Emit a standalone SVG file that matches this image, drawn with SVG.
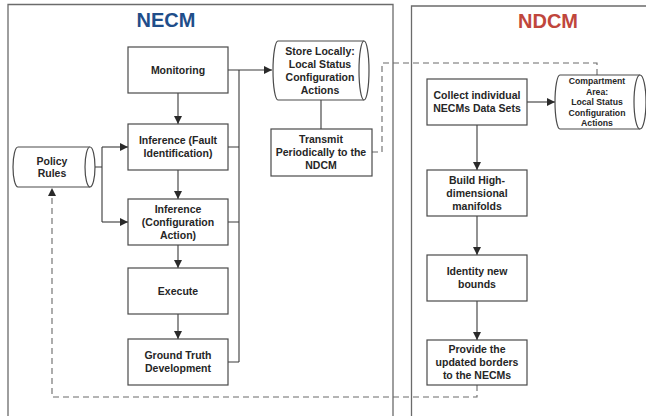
<svg xmlns="http://www.w3.org/2000/svg" width="646" height="416" viewBox="0 0 646 416">
<style>
.frame{fill:none;stroke:#6b6b6b;stroke-width:1.3}
.box{fill:#fff;stroke:#4a4a4a;stroke-width:1.2}
.t{font-family:"Liberation Sans",Arial,sans-serif;font-weight:bold;font-size:10.5px;fill:#262626;text-anchor:middle}
.ts{font-size:8.7px}
.ln{fill:none;stroke:#3a3a3a;stroke-width:1.1}
.dash{fill:none;stroke:#6a6a6a;stroke-width:1.1;stroke-dasharray:6,4}
</style>
<defs>
<marker id="ah" viewBox="0 0 10 10" refX="10" refY="5" markerWidth="8" markerHeight="8" markerUnits="userSpaceOnUse" orient="auto">
<path d="M0,0 L10,5 L0,10 Z" fill="#2a2a2a"/>
</marker>
</defs>
<rect width="646" height="416" fill="#fff"/>
<g id="frames">
<path class="frame" d="M8,416 V4.5 H393 V416"/>
<path class="frame" d="M411.5,416 V6 H646"/>
<text x="166" y="27" style="font-family:'Liberation Sans',Arial,sans-serif;font-weight:bold;font-size:20px;fill:#1f4e8a" text-anchor="middle">NECM</text>
<text x="548" y="28" style="font-family:'Liberation Sans',Arial,sans-serif;font-weight:bold;font-size:20px;fill:#c0463c" text-anchor="middle">NDCM</text>
</g>
<g id="connectors">
<path class="ln" d="M228,70 H272" marker-end="url(#ah)"/>
<path class="ln" d="M239,70 V362"/>
<path class="ln" d="M228,147 H239 M228,222 H239 M228,362 H239"/>
<path class="ln" d="M178,93 V124" marker-end="url(#ah)"/>
<path class="ln" d="M178,170 V199" marker-end="url(#ah)"/>
<path class="ln" d="M178,245 V268" marker-end="url(#ah)"/>
<path class="ln" d="M178,314 V339" marker-end="url(#ah)"/>
<path class="ln" d="M90,167 H102 M102,147 V222"/>
<path class="ln" d="M102,147 H128" marker-end="url(#ah)"/>
<path class="ln" d="M102,222 H128" marker-end="url(#ah)"/>
<path class="ln" d="M321,100 V129"/>
<path class="dash" d="M372,152 H382 V63 H597 V75"/>
<path class="ln" d="M527,102 H555" marker-end="url(#ah)"/>
<path class="ln" d="M477,125 V170" marker-end="url(#ah)"/>
<path class="ln" d="M477,216 V255" marker-end="url(#ah)"/>
<path class="ln" d="M477,301 V340" marker-end="url(#ah)"/>
<path class="dash" d="M477,385 V397 H52 V190"/>
<path d="M48,196 L52,188 L56,196 Z" fill="#2a2a2a"/>
</g>
<g id="monitoring">
<rect class="box" x="128" y="47" width="100" height="46"/>
<text class="t" x="178" y="74">Monitoring</text>
</g>
<g id="inference-fault">
<rect class="box" x="128" y="124" width="100" height="46"/>
<text class="t" x="178" y="144">Inference (Fault</text>
<text class="t" x="178" y="157">Identification)</text>
</g>
<g id="inference-config">
<rect class="box" x="128" y="199" width="100" height="46"/>
<text class="t" x="178" y="213">Inference</text>
<text class="t" x="178" y="226">(Configuration</text>
<text class="t" x="178" y="239">Action)</text>
</g>
<g id="execute">
<rect class="box" x="128" y="268" width="100" height="46"/>
<text class="t" x="178" y="295">Execute</text>
</g>
<g id="ground-truth">
<rect class="box" x="128" y="339" width="100" height="46"/>
<text class="t" x="178" y="359">Ground Truth</text>
<text class="t" x="178" y="372">Development</text>
</g>
<g id="policy-rules">
<path class="box" d="M18,147 H90 A5,20 0 0 1 90,187 H18 A5,20 0 0 1 18,147 Z"/>
<path class="box" d="M90,147 A5,20 0 0 0 90,187"/>
<text class="t" x="52" y="165">Policy</text>
<text class="t" x="52" y="177">Rules</text>
</g>
<g id="store-locally">
<path class="box" d="M278,41 H364 A5,29.5 0 0 1 364,100 H278 A5,29.5 0 0 1 278,41 Z"/>
<path class="box" d="M364,41 A5,29.5 0 0 0 364,100"/>
<text class="t" x="320" y="55">Store Locally:</text>
<text class="t" x="320" y="68">Local Status</text>
<text class="t" x="320" y="81">Configuration</text>
<text class="t" x="320" y="94">Actions</text>
</g>
<g id="transmit">
<rect class="box" x="271" y="129" width="101" height="47"/>
<text class="t" x="321" y="143">Transmit</text>
<text class="t" x="321" y="156">Periodically to the</text>
<text class="t" x="321" y="169">NDCM</text>
</g>
<g id="collect">
<rect class="box" x="427" y="79" width="100" height="46"/>
<text class="t" x="477" y="99">Collect individual</text>
<text class="t" x="477" y="112">NECMs Data Sets</text>
</g>
<g id="compartment">
<path class="box" d="M560,75 H640 A6,27 0 0 1 640,129 H560 A5,27 0 0 1 560,75 Z"/>
<path class="box" d="M640,75 A6,27 0 0 0 640,129"/>
<text class="t ts" x="597" y="84">Compartment</text>
<text class="t ts" x="597" y="94.5">Area:</text>
<text class="t ts" x="597" y="105">Local Status</text>
<text class="t ts" x="597" y="115.5">Configuration</text>
<text class="t ts" x="597" y="126">Actions</text>
</g>
<g id="build">
<rect class="box" x="427" y="170" width="100" height="46"/>
<text class="t" x="477" y="184">Build High-</text>
<text class="t" x="477" y="197">dimensional</text>
<text class="t" x="477" y="210">manifolds</text>
</g>
<g id="identity">
<rect class="box" x="427" y="255" width="100" height="46"/>
<text class="t" x="477" y="275">Identity new</text>
<text class="t" x="477" y="288">bounds</text>
</g>
<g id="provide">
<rect class="box" x="427" y="340" width="100" height="45"/>
<text class="t" x="477" y="353">Provide the</text>
<text class="t" x="477" y="366">updated borders</text>
<text class="t" x="477" y="379">to the NECMs</text>
</g>
</svg>
